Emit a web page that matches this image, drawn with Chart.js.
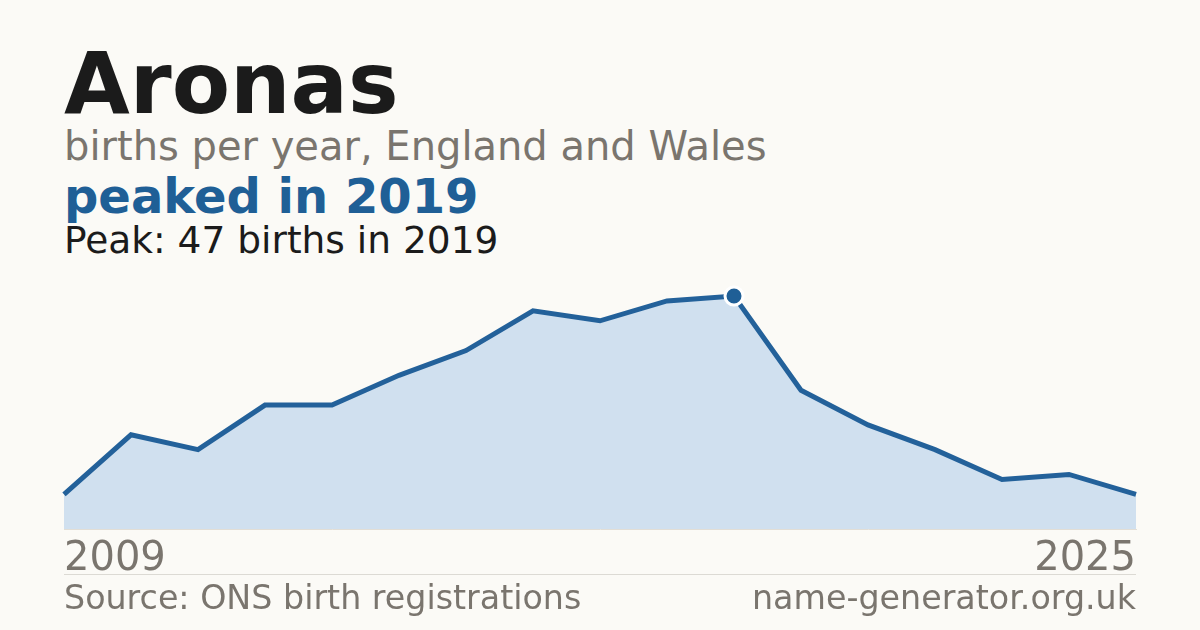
<!DOCTYPE html>
<html>
<head>
<meta charset="utf-8">
<script src="https://cdn.jsdelivr.net/npm/chart.js@4"></script>
<style>
  html, body { margin: 0; padding: 0; }
  body {
    width: 1200px; height: 630px; overflow: hidden; position: relative;
    background: #fbfaf6; font-family: "DejaVu Sans", sans-serif;
  }
  .txt { position: absolute; left: 64px; line-height: 1; white-space: nowrap; }
  #title { top: 41px; font-size: 85px; font-weight: bold; color: #1b1b1b; }
  #subtitle { top: 126px; font-size: 40px; color: #7a756e; }
  #headline { top: 172px; font-size: 48px; font-weight: bold; color: #1f5f96; }
  #peakline { top: 222px; font-size: 37.5px; color: #1b1b1b; }
  #rule { position: absolute; left: 64px; width: 1072px; top: 574px; height: 1px; background: #dcdad4; }
  #source { top: 581px; font-size: 33.3px; color: #7a756e; }
  #site { top: 581px; left: auto; right: 64px; font-size: 33.3px; color: #7a756e; }
  #wrap { position: absolute; left: 61px; top: 270px; width: 1078px; height: 313px; }
</style>
</head>
<body>
<div class="txt" id="title">Aronas</div>
<div class="txt" id="subtitle">births per year, England and Wales</div>
<div class="txt" id="headline"></div>
<div class="txt" id="peakline"></div>
<div id="wrap"><canvas id="birthsChart"></canvas></div>
<div id="rule"></div>
<div class="txt" id="source">Source: ONS birth registrations</div>
<div class="txt" id="site">name-generator.org.uk</div>

<script>
// values
const years = ["2009", "2010", "2011", "2012", "2013", "2014", "2015", "2016", "2017",
               "2018", "2019", "2020", "2021", "2022", "2023", "2024", "2025"];
const births = [7, 19, 16, 25, 25, 31, 36, 44, 42, 46, 47, 28, 21, 16, 10, 11, 7];

const peakIdx = births.indexOf(Math.max(...births));
document.getElementById("headline").textContent = `peaked in ${years[peakIdx]}`;
document.getElementById("peakline").textContent = `Peak: ${births[peakIdx]} births in ${years[peakIdx]}`;

const ctx = document.getElementById("birthsChart").getContext("2d");
new Chart(ctx, {
  type: "line",
  data: {
    labels: years,
    datasets: [{
      data: births,
      borderColor: "#23619a",
      borderWidth: 5,
      backgroundColor: "#d0e0ef",
      fill: "origin",
      tension: 0,
      clip: false,
      pointRadius: c => (c.dataIndex === peakIdx ? 9 : 0),
      pointHoverRadius: 0,
      pointBackgroundColor: "#1f5f96",
      pointBorderColor: "#ffffff",
      pointBorderWidth: 3
    }]
  },
  options: {
    responsive: true,
    maintainAspectRatio: false,
    animation: false,
    layout: { padding: { top: 26, left: 0, right: 0, bottom: 0 } },
    plugins: { legend: { display: false }, tooltip: { enabled: false } },
    scales: {
      x: {
        offset: false,
        grid: { display: false },
        border: { display: true, color: "#e2ded6", width: 1 },
        ticks: {
          autoSkip: false,
          maxRotation: 0,
          align: "inner",
          padding: 3,
          color: "#7a756e",
          font: { family: "DejaVu Sans", size: 40, lineHeight: 1 },
          callback: (v, i) => (i === 0 || i === years.length - 1 ? years[i] : "")
        }
      },
      y: { display: false, min: 0, max: 47 }
    }
  }
});
</script>
</body>
</html>
